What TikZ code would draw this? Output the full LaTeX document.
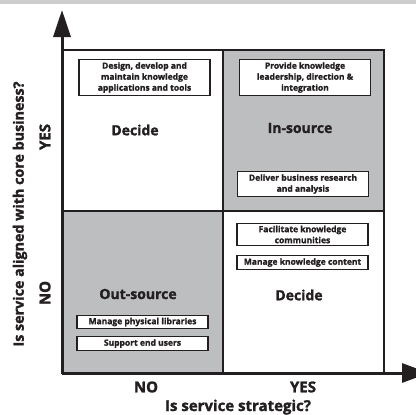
\documentclass[tikz,border=0pt]{standalone}
\usepackage{fontspec}
\setmainfont{Open Sans}[BoldFeatures={FakeBold=1.6}]
\usetikzlibrary{arrows.meta,positioning}

\definecolor{quadgray}{RGB}{189,190,192}
\definecolor{bandgray}{RGB}{205,205,205}
\definecolor{ink}{RGB}{35,31,32}

\begin{document}
\begin{tikzpicture}[x=1pt, y=-1pt, ink,
	task/.style={draw, line width=1.2pt, fill=white, align=center, inner xsep=2pt, inner ysep=2.4pt,
		minimum width=131pt, font=\bfseries\fontsize{8.5}{11}\selectfont},
	verdict/.style={font=\bfseries\fontsize{14}{16}\selectfont},
	axlabel/.style={font=\bfseries\fontsize{15}{17}\selectfont}]
		\useasboundingbox (0,0) rectangle (416,415);
		\fill[bandgray] (0,0) rectangle (416,4);
		
		% quadrants
		\fill[quadgray] (223,50) rectangle (384,211);
		\fill[quadgray] (62,211) rectangle (223,373);
		\draw[line width=2pt] (62,50) rectangle (384,373);
		\draw[line width=2pt] (223,50) -- (223,373);
		\draw[line width=2pt] (62,211) -- (384,211);
		
		% axes
		\coordinate (origin) at (62,373);
		\coordinate (ytip) at (62,10);
		\coordinate (xtip) at (429,373);
		\draw[line width=3pt, -{Triangle[length=27pt, width=17pt]}] (origin) -- (ytip);
		\draw[line width=3pt, -{Triangle[length=27pt, width=19pt]}] (origin) -- (xtip);
		
		\node[verdict] (decideA) at (135,130) {Decide};
		\node[verdict] (insource) at (300,128) {In-source};
		\node[verdict] (outsource) at (138,294) {Out-source};
		\node[verdict] (decideB) at (299,295) {Decide};
		
		\node[task] (design) at (144.5,77.5) {Design, develop and\\maintain knowledge\\applications and tools};
		\node[task] (provide) at (305,77.5) {Provide knowledge\\leadership, direction \&\\integration};
		\node[task] (deliver) at (303,184) {Deliver business research\\and analysis};
		\node[task] (facilitate) at (302.5,234.5) {Facilitate knowledge\\communities};
		\node[task, below = 9pt of facilitate] (content) {Manage knowledge content};
		\node[task] (libraries) at (142.5,322) {Manage physical libraries};
		\node[task, below = 7pt of libraries] (endusers) {Support end users};
		
		\node[axlabel, rotate=90] (yes) at (45,137) {YES};
		\node[axlabel, rotate=90] (no) at (45,293) {NO};
		\node[axlabel, rotate=90, font=\bfseries\fontsize{14.3}{16}\selectfont] (ytitle) at (20,214) {Is service aligned with core business?};
		\node[axlabel] (xno) at (146,387) {NO};
		\node[axlabel] (xyes) at (303,387) {YES};
		\node[axlabel, anchor=base] (xtitle) at (238,411) {Is service strategic?};
\end{tikzpicture}
\end{document}
